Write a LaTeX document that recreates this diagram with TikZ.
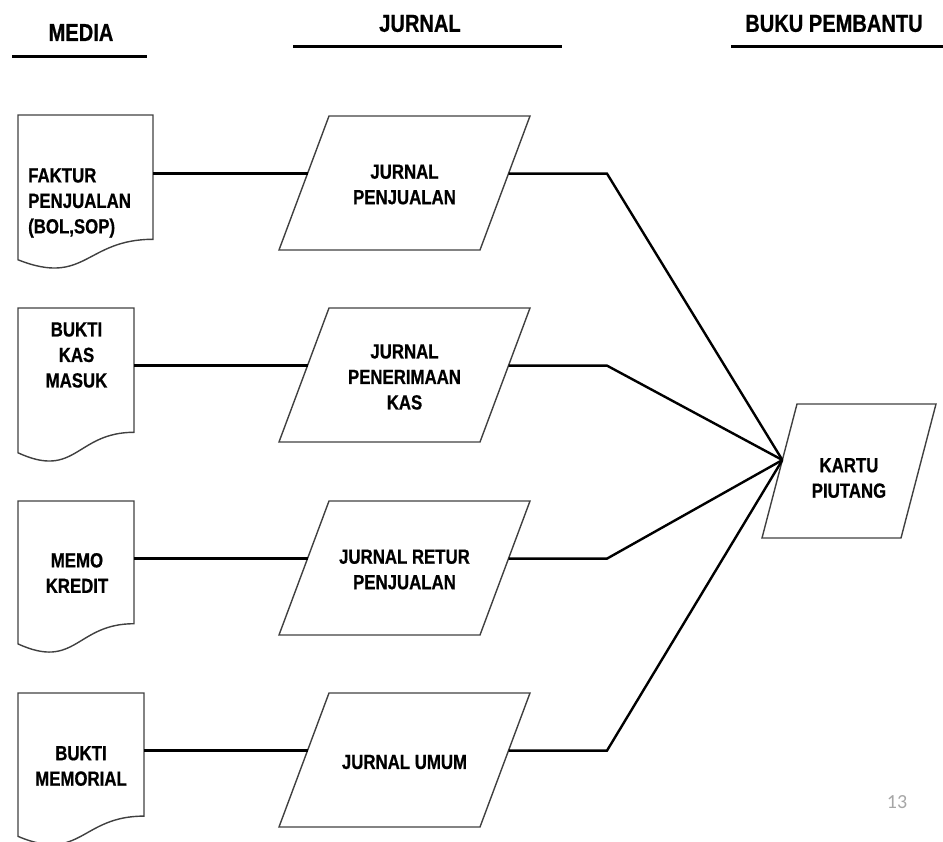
\documentclass[tikz,border=0pt]{standalone}
\usepackage{fontspec}
\setmainfont{Liberation Sans}[FakeStretch=0.82, BoldFeatures={FakeBold=0.7}]
\newfontfamily\pagenumfont{Carlito}
\usetikzlibrary{calc}
\definecolor{outlinegray}{HTML}{404040}
\definecolor{pagegray}{HTML}{A6A6A6}
\tikzset{
  shapeline/.style={draw=outlinegray, line width=1.4pt, line join=miter},
  conn/.style={draw=black, line width=2.4pt, line join=miter},
  headrule/.style={draw=black, line width=3pt},
  headtext/.style={font=\bfseries\fontsize{24.5}{28}\selectfont, inner sep=0pt},
  bodytext/.style={font=\bfseries\fontsize{20.5}{25.5}\selectfont, align=center, inner sep=0pt},
}
% document shape: name, x0, y0, w, h
\newcommand\mydocshape[5]{%
  \coordinate (#1-tl) at (#2,#3);
  \coordinate (#1-tr) at ({#2+#4},#3);
  \coordinate (#1-rb) at ({#2+#4},{#3+0.802*#5});
  \coordinate (#1-lb) at (#2,{#3+0.934*#5});
  \draw[shapeline] (#1-lb) -- (#1-tl) -- (#1-tr) -- (#1-rb)
    .. controls ({#2+0.5*#4},{#3+0.802*#5}) and ({#2+0.5*#4},{#3+1.1075*#5}) .. (#1-lb) -- cycle;
}
% parallelogram: name, top-left x, top y, top width, height, slant, attach fraction
\newcommand\myparashape[7]{%
  \coordinate (#1-tl) at (#2,#3);
  \coordinate (#1-tr) at ({#2+#4},#3);
  \coordinate (#1-br) at ({#2+#4-#6},{#3+#5});
  \coordinate (#1-bl) at ({#2-#6},{#3+#5});
  \draw[shapeline] (#1-tl) -- (#1-tr) -- (#1-br) -- (#1-bl) -- cycle;
  \coordinate (#1-in) at ($(#1-tl)!#7!(#1-bl)$);
  \coordinate (#1-out) at ($(#1-tr)!#7!(#1-br)$);
}
\begin{document}
\begin{tikzpicture}[x=1pt,y=-1pt]
\useasboundingbox (0,0) rectangle (943,842);

% headers
\node[headtext] (hmedia) at (81,32.5) {MEDIA};
\node[headtext] (hjurnal) at (420,23.5) {JURNAL};
\node[headtext] (hbuku) at (834,23.5) {BUKU PEMBANTU};
\coordinate (u1a) at (12,57); \coordinate (u1b) at (147,57);
\coordinate (u2a) at (293,47); \coordinate (u2b) at (562,47);
\coordinate (u3a) at (731,47); \coordinate (u3b) at (943,47);
\draw[headrule] (u1a) -- (u1b);
\draw[headrule] (u2a) -- (u2b);
\draw[headrule] (u3a) -- (u3b);

% documents
\mydocshape{d1}{18}{115}{135}{155}
\mydocshape{d2}{18}{308}{116}{155}
\mydocshape{d3}{18}{501}{116}{153}
\mydocshape{d4}{18}{693}{126}{153.5}
\node[bodytext, align=left, anchor=west] (t1) at (28,203) {FAKTUR\\PENJUALAN\\(BOL,SOP)};
\node[bodytext] (t2) at (76.5,355) {BUKTI\\KAS\\MASUK};
\node[bodytext] (t3) at (77,573) {MEMO\\KREDIT};
\node[bodytext] (t4) at (81,766) {BUKTI\\MEMORIAL};

% journals
\myparashape{p1}{329}{116}{201}{134}{50}{0.43}
\myparashape{p2}{329}{308}{201}{134}{50}{0.43}
\myparashape{p3}{329}{501}{201}{134}{50}{0.43}
\myparashape{p4}{329}{693}{201}{134}{50}{0.43}
\node[bodytext] (j1) at (404.5,184.5) {JURNAL\\PENJUALAN};
\node[bodytext] (j2) at (404.5,377) {JURNAL\\PENERIMAAN\\KAS};
\node[bodytext] (j3) at (404.5,569.5) {JURNAL RETUR\\PENJUALAN};
\node[bodytext] (j4) at (404.5,762) {JURNAL UMUM};

% kartu piutang
\myparashape{k}{797}{404}{139}{134}{35}{0.418}
\node[bodytext] (kt) at (849,478) {KARTU\\PIUTANG};

% connectors media -> jurnal
\draw[conn] (d1-tr |- p1-in) -- (p1-in);
\draw[conn] (d2-tr |- p2-in) -- (p2-in);
\draw[conn] (d3-tr |- p3-in) -- (p3-in);
\draw[conn] (d4-tr |- p4-in) -- (p4-in);

% connectors jurnal -> kartu
\coordinate (bend) at (607,0);
\draw[conn] (p1-out) -- (p1-out -| bend) -- (k-in);
\draw[conn] (p2-out) -- (p2-out -| bend) -- (k-in);
\draw[conn] (p3-out) -- (p3-out -| bend) -- (k-in);
\draw[conn] (p4-out) -- (p4-out -| bend) -- (k-in);

% page number
\node[font=\pagenumfont\fontsize{20}{24}\selectfont, text=pagegray, inner sep=0pt] (pnum) at (897,802) {13};
\end{tikzpicture}
\end{document}
